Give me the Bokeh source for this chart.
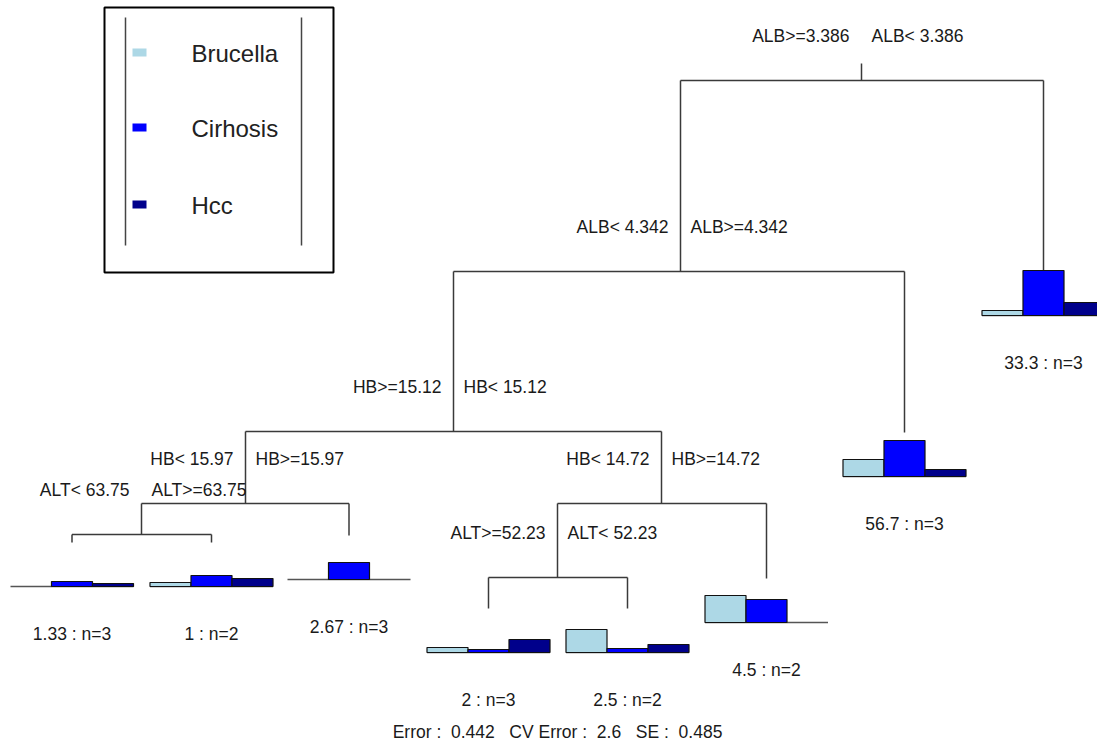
from bokeh.plotting import figure
from bokeh.models import Range1d
from bokeh.core.properties import value
from bokeh.embed import file_html
from bokeh.resources import INLINE

# ---------------- data ----------------
classes = ["Brucella", "Cirhosis", "Hcc"]
class_colors = ["#ADD8E6", "#0000FF", "#00008B"]

# split labels for internal nodes n0..n6 (left branch, right branch)
split_left = ["ALB>=3.386", "ALB< 4.342", "HB>=15.12", "HB< 15.97",
              "ALT< 63.75", "HB< 14.72", "ALT>=52.23"]
split_right = ["ALB< 3.386", "ALB>=4.342", "HB< 15.12", "HB>=15.97",
               "ALT>=63.75", "HB>=14.72", "ALT< 52.23"]

# leaves l0..l7
leaf_dev = ["1.33", "1", "2.67", "2", "2.5", "4.5", "56.7", "33.3"]
leaf_n = [3, 2, 3, 3, 2, 2, 3, 3]
brucella = [0, 4, 0, 5, 23, 27, 17, 5]
cirhosis = [5, 11, 17, 3, 4, 23, 36, 45]
hcc = [3, 8, 0, 13, 8, 0, 7, 13]

error_val, cv_error_val, se_val = 0.442, 2.6, 0.485

# ---------------- layout ----------------
children = {
    "n0": ("n1", "l7"),
    "n1": ("n2", "l6"),
    "n2": ("n3", "n5"),
    "n3": ("n4", "l2"),
    "n4": ("l0", "l1"),
    "n5": ("n6", "l5"),
    "n6": ("l3", "l4"),
}
node_x = {"n0": 861, "n1": 680, "n2": 453, "n3": 245, "n4": 141, "n5": 661, "n6": 557,
          "l0": 71.5, "l1": 211, "l2": 348.5, "l3": 488, "l4": 627, "l5": 766,
          "l6": 904, "l7": 1043}
node_y = {"n0": 80, "n1": 271, "n2": 431, "n3": 503, "n4": 534, "n5": 503, "n6": 577,
          "l0": 542, "l1": 542, "l2": 535, "l3": 608, "l4": 608, "l5": 578,
          "l6": 432, "l7": 271}
root_stub_top = 63
bar_gap = 44          # leaf node y -> bar baseline
bar_w = 41
bar_scale = 1.0
label_off = 45
FONT = value("Liberation Sans")
FS = "17.5px"
TXT = "#1a1a1a"
NB = "\u00a0"

W, H = 1097, 744
p = figure(width=W, height=H, x_range=Range1d(0, W), y_range=Range1d(H, 0),
           output_backend="svg", toolbar_location=None, min_border=0)
p.axis.visible = False
p.grid.visible = False
p.outline_line_color = None
p.background_fill_color = "white"
p.border_fill_color = "white"

# tree segments
x0s, y0s, x1s, y1s = [node_x["n0"]], [root_stub_top], [node_x["n0"]], [node_y["n0"]]
for nid, (lc, rc) in children.items():
    y = node_y[nid]
    x0s.append(node_x[lc]); y0s.append(y); x1s.append(node_x[rc]); y1s.append(y)
    for c in (lc, rc):
        x0s.append(node_x[c]); y0s.append(y); x1s.append(node_x[c]); y1s.append(node_y[c])
p.segment(x0=x0s, y0=y0s, x1=x1s, y1=y1s, line_color="#3a3a3a", line_width=1.5)

# split labels
internal = ["n0", "n1", "n2", "n3", "n4", "n5", "n6"]
p.text(x=[node_x[n] - 12 for n in internal], y=[node_y[n] - label_off for n in internal],
       text=split_left, text_align="right", text_baseline="middle",
       text_font=FONT, text_font_size=FS, text_color=TXT)
p.text(x=[node_x[n] + 10 for n in internal], y=[node_y[n] - label_off for n in internal],
       text=split_right, text_align="left", text_baseline="middle",
       text_font=FONT, text_font_size=FS, text_color=TXT)

# leaves
leaves = ["l0", "l1", "l2", "l3", "l4", "l5", "l6", "l7"]
series = [brucella, cirhosis, hcc]
bl, br, bt, bb, bc = [], [], [], [], []
base_x0, base_x1, base_y = [], [], []
for i, lid in enumerate(leaves):
    cx = node_x[lid]
    base = node_y[lid] + bar_gap
    left0 = cx - 1.5 * bar_w
    base_x0.append(left0); base_x1.append(left0 + 3 * bar_w); base_y.append(base)
    for k in range(3):
        h = series[k][i] * bar_scale
        if h <= 0:
            continue
        bl.append(left0 + k * bar_w); br.append(left0 + (k + 1) * bar_w)
        bt.append(base - h); bb.append(base); bc.append(class_colors[k])
p.segment(x0=base_x0, y0=base_y, x1=base_x1, y1=base_y, line_color="#555555", line_width=1.5)
p.quad(left=bl, right=br, top=bt, bottom=bb, fill_color=bc, line_color="#111111", line_width=1.2)

p.text(x=[node_x[l] for l in leaves], y=[node_y[l] + bar_gap + 47 for l in leaves],
       text=[f"{d} : n={n}" for d, n in zip(leaf_dev, leaf_n)],
       text_align="center", text_baseline="middle",
       text_font=FONT, text_font_size=FS, text_color=TXT)

# summary
summary = (f"Error :{NB*2}{error_val}{NB*3}CV Error :{NB*2}{cv_error_val}"
           f"{NB*3}SE :{NB*2}{se_val}")
p.text(x=[557], y=[731], text=[summary],
       text_align="center", text_baseline="middle",
       text_font=FONT, text_font_size=FS, text_color=TXT)

# legend (drawn)
p.quad(left=[104], right=[333], top=[7], bottom=[272], fill_color=None,
       line_color="black", line_width=2)
p.segment(x0=[125, 301], y0=[17, 17], x1=[125, 301], y1=[245, 245],
          line_color="#444444", line_width=1.5)
leg_y = [52, 127, 204]
p.quad(left=[132] * 3, right=[146] * 3, top=[y - 4 for y in leg_y], bottom=[y + 4 for y in leg_y],
       fill_color=class_colors, line_color=None)
p.text(x=[191] * 3, y=[y + 1 for y in leg_y], text=classes, text_align="left",
       text_baseline="middle", text_font=FONT, text_font_size="24px",
       text_color="#222222")

open("out.html", "w").write(file_html(p, INLINE))
